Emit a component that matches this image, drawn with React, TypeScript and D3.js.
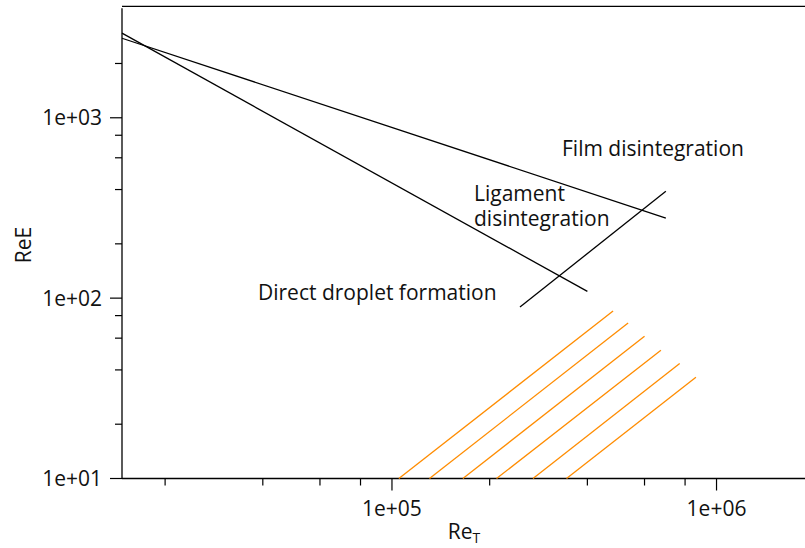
import React from 'react';
import * as d3 from 'd3';

// Regime boundaries: [Re_T, ReE] pairs
const filmBoundary: [number, number][] = [[14730, 2760], [698000, 278]];
const ligamentBoundary: [number, number][] = [[14730, 2945], [400000, 109]];
const crossBoundary: [number, number][] = [[248000, 89.3], [698000, 391]];

// orange hatch lines (start on the x axis, end up right)
const hatchStartX = [105000, 130500, 165400, 210000, 272000, 345000];
const hatchEndX = [480000, 534000, 600000, 674000, 770000, 864000];
const hatchEndY = [84.8, 72.8, 61.4, 51.4, 43.4, 36.4];

const xMajorTicks = [1e5, 1e6];
const xMinorTicks = [2e4, 4e4, 6e4, 8e4, 2e5, 4e5, 6e5, 8e5];
const yMajorTicks = [10, 100, 1000];
const yMinorTicks = [20, 40, 60, 80, 200, 400, 600, 800, 2000];

const annotations = [
  { lines: ['Film disintegration'], x: 562, y: 156 },
  { lines: ['Ligament', 'disintegration'], x: 474, y: 201 },
  { lines: ['Direct droplet formation'], x: 258, y: 300 },
];

const W = 805;
const H = 548;
const left = 122;
const right = 807;
const top = 6.3;
const bottom = 478.5;
const font = '"Open Sans", "DejaVu Sans", sans-serif';

const fmt = (t: number) => d3.format('.0e')(t).replace('e+', 'e+0');

export default function App() {
  const x = d3.scaleLog().domain([14730, 1.9e6]).range([left, right]);
  const y = d3.scaleLog().domain([10, 4150]).range([bottom, top]);
  const line = d3
    .line<[number, number]>()
    .x(d => x(d[0]))
    .y(d => y(d[1]));

  const hatches: [number, number][][] = hatchStartX.map((sx, i) => [
    [sx, 10],
    [hatchEndX[i], hatchEndY[i]],
  ]);

  return (
    <svg
      width={W}
      height={H}
      style={{ position: 'absolute', left: 0, top: 0 }}
      fontFamily={font}
    >
      <rect width={W} height={H} fill="white" />

      {/* frame */}
      <line x1={left} x2={W} y1={top} y2={top} stroke="black" strokeWidth={1.3} />
      <line x1={left} x2={W} y1={bottom} y2={bottom} stroke="black" strokeWidth={1.3} />
      <line x1={left} x2={left} y1={top + 2} y2={bottom} stroke="black" strokeWidth={1.3} />

      {/* x ticks */}
      {xMinorTicks.map(t => (
        <line key={'xm' + t} x1={x(t)} x2={x(t)} y1={bottom} y2={bottom + 7} stroke="black" strokeWidth={1.2} />
      ))}
      {xMajorTicks.map(t => (
        <g key={'xM' + t}>
          <line x1={x(t)} x2={x(t)} y1={bottom} y2={bottom + 12} stroke="black" strokeWidth={1.2} />
          <text x={x(t)} y={516} textAnchor="middle" fontSize={21} fill="#111">
            {fmt(t)}
          </text>
        </g>
      ))}

      {/* y ticks */}
      {yMinorTicks.map(t => (
        <line key={'ym' + t} x1={left - 7} x2={left} y1={y(t)} y2={y(t)} stroke="black" strokeWidth={1.2} />
      ))}
      {yMajorTicks.map(t => (
        <g key={'yM' + t}>
          <line x1={left - 12} x2={left} y1={y(t)} y2={y(t)} stroke="black" strokeWidth={1.2} />
          <text x={102} y={y(t)} dy="0.36em" textAnchor="end" fontSize={21} fill="#111">
            {fmt(t)}
          </text>
        </g>
      ))}

      {/* axis titles */}
      <text x={464} y={539} textAnchor="middle" fontSize={21} fill="#111">
        Re<tspan fontSize={14} dy={4}>T</tspan>
      </text>
      <text transform="translate(31,245) rotate(-90)" textAnchor="middle" fontSize={21} fill="#111">
        ReE
      </text>

      {/* boundaries */}
      {[filmBoundary, ligamentBoundary, crossBoundary].map((d, i) => (
        <path key={'b' + i} d={line(d) || ''} fill="none" stroke="black" strokeWidth={1.3} />
      ))}

      {hatches.map((d, i) => (
        <path key={'h' + i} d={line(d) || ''} fill="none" stroke="#ff8c00" strokeWidth={1.3} />
      ))}

      {annotations.map(a => (
        <text key={a.lines[0]} x={a.x} y={a.y} fontSize={21} fill="#111">
          {a.lines.map((l, i) => (
            <tspan key={l} x={a.x} dy={i === 0 ? 0 : 25}>
              {l}
            </tspan>
          ))}
        </text>
      ))}
    </svg>
  );
}
